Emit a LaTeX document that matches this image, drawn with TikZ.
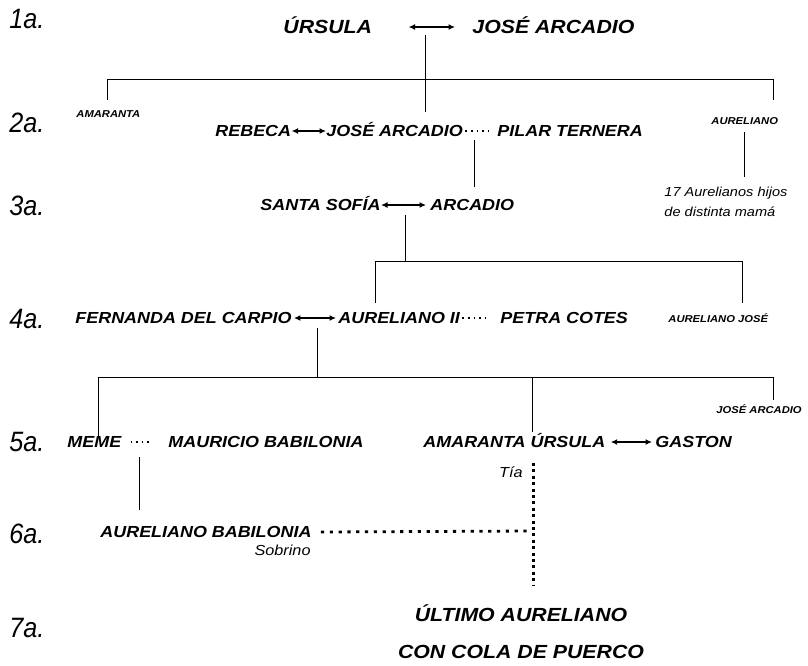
\documentclass[tikz,border=0pt]{standalone}
\usepackage{fontspec}
\usetikzlibrary{arrows.meta}
\newfontfamily\namefont[FakeStretch=1.12]{Liberation Sans}
\newfontfamily\genfont[FakeStretch=0.9]{Liberation Sans}

\begin{document}
\begin{tikzpicture}[x=1pt, y=-1pt,
    big/.style={font=\namefont\bfseries\itshape\fontsize{19}{22}\selectfont, inner sep=0, text height=13pt, text depth=0pt, anchor=west},
    person/.style={font=\namefont\bfseries\itshape\fontsize{16}{19}\selectfont, inner sep=0, text height=11pt, text depth=0pt, anchor=west},
    minor/.style={font=\namefont\bfseries\itshape\fontsize{10}{12}\selectfont, inner sep=0, text height=7pt, text depth=0pt, anchor=west},
    note/.style={font=\namefont\itshape\fontsize{14.5}{17}\selectfont, inner sep=0, text height=10pt, text depth=0pt},
    hint/.style={font=\namefont\itshape\fontsize{13}{20}\selectfont, inner sep=0, align=left, anchor=north west},
    gen/.style={font=\genfont\itshape\fontsize{28}{30}\selectfont, inner sep=0, text height=20pt, text depth=0pt, anchor=west},
    married/.style={{Latex[length=6.5pt,width=6pt]}-{Latex[length=6.5pt,width=6pt]}, line width=1.4pt},
    affair/.style={line width=1.6pt, dash pattern=on 1.6pt off 4pt},
    incest/.style={line width=3pt, dash pattern=on 3pt off 3.4pt},
    incesth/.style={line width=2.8pt, dash pattern=on 3.2pt off 5.6pt},
    line width=0.9pt]

    \useasboundingbox (0,0) rectangle (808,665);

    % Generations
    \foreach \g/\y in {1/18, 2/122, 3/205, 4/318, 5/441, 6/533, 7/627}
      \node[gen] (gen\g) at (9,\y) {\g a.};

    % 1a.
    \node[big] (ursula) at (283,27) {ÚRSULA};
    \node[big] (josearcadio) at (472,27) {JOSÉ ARCADIO};
    \draw[married] ([xshift=36pt]ursula.east) -- ([xshift=-17pt]josearcadio.west);
    \draw (425,35) -- (425,112);
    \draw (107,100) -- (107,79) -- (773,79) -- (773,100);

    % 2a.
    \node[minor] (amaranta) at (76,114) {AMARANTA};
    \node[minor] (aureliano) at (711,121) {AURELIANO};
    \node[person] (rebeca) at (215,131) {REBECA};
    \node[person] (josearcadioII) at (326,131) {JOSÉ ARCADIO};
    \node[person] (pilar) at (497,131) {PILAR TERNERA};
    \draw[married] (rebeca.east) -- (josearcadioII.west);
    \draw[affair] ([xshift=2pt]josearcadioII.east) -- ([xshift=-5pt]pilar.west);
    \draw (744,132) -- (744,177);
    \node[hint] (hijos) at (664,187) {17 Aurelianos hijos\\de distinta mamá};

    % 3a.
    \draw (474,140) -- (474,187);
    \node[person] (santasofia) at (260,205) {SANTA SOFÍA};
    \node[person] (arcadio) at (430,205) {ARCADIO};
    \draw[married] (santasofia.east) -- ([xshift=-4pt]arcadio.west);
    \draw (405,215) -- (405,261);
    \draw (375,303) -- (375,261) -- (742,261) -- (742,303);

    % 4a.
    \node[person] (fernanda) at (75,318) {FERNANDA DEL CARPIO};
    \node[person] (aurelianoII) at (338,318) {AURELIANO II};
    \node[person] (petra) at (500,318) {PETRA COTES};
    \node[minor] (aurelianojose) at (668,319) {AURELIANO JOSÉ};
    \draw[married] ([xshift=2pt]fernanda.east) -- ([xshift=-2pt]aurelianoII.west);
    \draw[affair] ([xshift=2pt]aurelianoII.east) -- ([xshift=-12pt]petra.west);
    \draw (317,328) -- (317,377);
    \draw (98,437) -- (98,377) -- (773,377) -- (773,400);
    \draw (532,377) -- (532,432);
    \node[minor] (josearcadioIII) at (716,410) {JOSÉ ARCADIO};

    % 5a.
    \node[person] (meme) at (67,442) {MEME};
    \node[person] (mauricio) at (168,442) {MAURICIO BABILONIA};
    \node[person] (amarantaursula) at (423,442) {AMARANTA ÚRSULA};
    \node[person] (gaston) at (655,442) {GASTON};
    \draw[affair] ([xshift=9pt]meme.east) -- ([xshift=-18pt]mauricio.west);
    \draw[married] ([xshift=5pt]amarantaursula.east) -- ([xshift=-3pt]gaston.west);
    \node[note, anchor=east] (tia) at (523,472) {Tía};
    \draw (139,457) -- (139,510);
    \draw[incest] (533,463) -- (533,585);

    % 6a.
    \node[person] (aurelianob) at (100,532) {AURELIANO BABILONIA};
    \node[note, anchor=east] (sobrino) at (311,550) {Sobrino};
    \draw[incesth] ([xshift=9pt]aurelianob.east) -- (531,531);

    % 7a.
    \node[big, anchor=center] (ultimo) at (521,615) {ÚLTIMO AURELIANO};
    \node[big, anchor=center] (cola) at (521,652) {CON COLA DE PUERCO};
\end{tikzpicture}
\end{document}
